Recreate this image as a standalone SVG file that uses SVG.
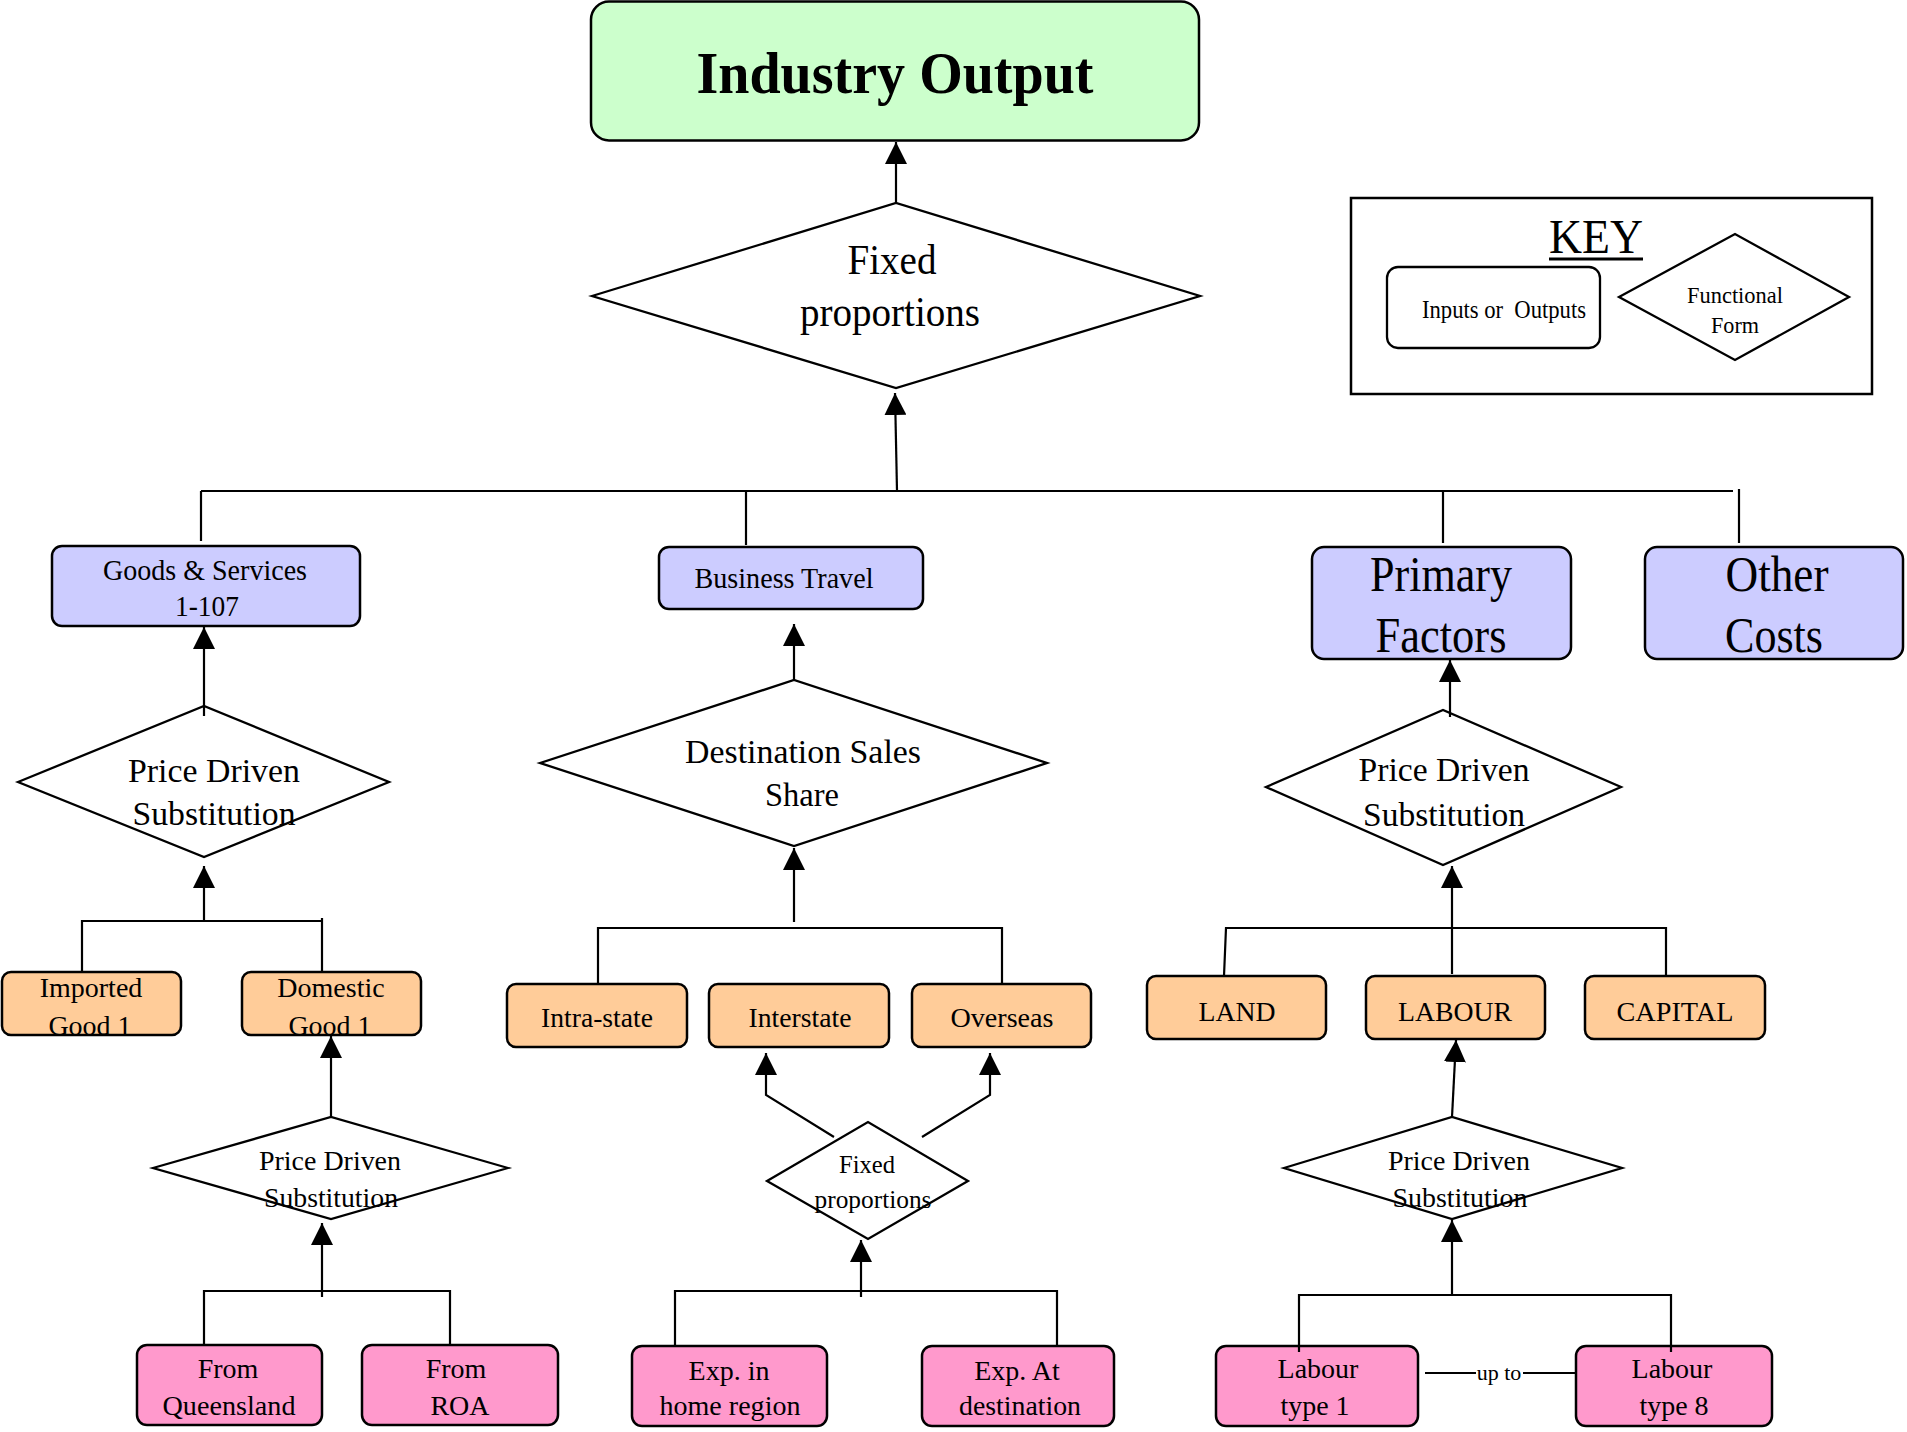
<svg xmlns="http://www.w3.org/2000/svg" width="1907" height="1432" viewBox="0 0 1907 1432">
<style>
.t{font-family:"Liberation Serif","Times New Roman",serif;fill:#000;text-anchor:middle}
.box{stroke:#000;stroke-width:2.5}
.g{fill:#CCFFCC}.b{fill:#CCCCFF}.o{fill:#FFCC99}.p{fill:#FF99CC}
.d{fill:#fff;stroke:#000;stroke-width:2.3}
.c{fill:none;stroke:#000;stroke-width:2.2}
.ca{fill:none;stroke:#000;stroke-width:2.2;marker-end:url(#ah)}
</style>
<defs>
<marker id="ah" viewBox="0 0 22 22" refX="22" refY="11" markerWidth="22" markerHeight="22" markerUnits="userSpaceOnUse" orient="auto">
<path d="M0,0 L22,11 L0,22 z" fill="#000"/>
</marker>
</defs>
<rect width="1907" height="1432" fill="#fff"/>

<g id="n-industry">
<rect class="box g" x="591" y="1.5" width="608" height="139" rx="18"/>
<text class="t" x="895" y="93" font-size="60" font-weight="bold" textLength="397" lengthAdjust="spacingAndGlyphs">Industry Output</text>
</g>
<g id="n-fixed">
<polygon class="d" points="592,296 896,203 1200,296 896,388"/>
<text class="t" x="892" y="274" font-size="42" textLength="89" lengthAdjust="spacingAndGlyphs">Fixed</text>
<text class="t" x="890" y="326" font-size="42" textLength="180" lengthAdjust="spacingAndGlyphs">proportions</text>
</g>
<g id="n-key">
<rect x="1351" y="198" width="521" height="196" fill="#fff" stroke="#000" stroke-width="2.5"/>
<text class="t" x="1596" y="253" font-size="48" textLength="94" lengthAdjust="spacingAndGlyphs">KEY</text>
<line x1="1549" y1="259" x2="1643" y2="259" stroke="#000" stroke-width="3"/>
<rect x="1387" y="267" width="213" height="81" rx="11" fill="#fff" stroke="#000" stroke-width="2.3"/>
<text class="t" x="1504" y="318" font-size="25" textLength="164" lengthAdjust="spacingAndGlyphs" xml:space="preserve">Inputs or  Outputs</text>
<polygon class="d" points="1619,297 1735,234 1849,297 1735,360"/>
<text class="t" x="1735" y="303" font-size="23" textLength="96" lengthAdjust="spacingAndGlyphs">Functional</text>
<text class="t" x="1735" y="333" font-size="23" textLength="48" lengthAdjust="spacingAndGlyphs">Form</text>
</g>

<g id="n-goods">
<rect class="box b" x="52" y="546" width="308" height="80" rx="10"/>
<text class="t" x="205" y="580" font-size="29" textLength="204" lengthAdjust="spacingAndGlyphs">Goods &amp; Services</text>
<text class="t" x="207" y="616" font-size="29" textLength="64" lengthAdjust="spacingAndGlyphs">1-107</text>
</g>
<g id="n-business">
<rect class="box b" x="659" y="547" width="264" height="62" rx="10"/>
<text class="t" x="784" y="588" font-size="29" textLength="179" lengthAdjust="spacingAndGlyphs">Business Travel</text>
</g>
<g id="n-primary">
<rect class="box b" x="1312" y="547" width="259" height="112" rx="12"/>
<text class="t" x="1441" y="591" font-size="50" textLength="142" lengthAdjust="spacingAndGlyphs">Primary</text>
<text class="t" x="1441" y="652" font-size="50" textLength="131" lengthAdjust="spacingAndGlyphs">Factors</text>
</g>
<g id="n-other">
<rect class="box b" x="1645" y="547" width="258" height="112" rx="12"/>
<text class="t" x="1777" y="591" font-size="50" textLength="103" lengthAdjust="spacingAndGlyphs">Other</text>
<text class="t" x="1774" y="652" font-size="50" textLength="98" lengthAdjust="spacingAndGlyphs">Costs</text>
</g>

<g id="n-pds-goods">
<polygon class="d" points="18,782 204,706 389,782 204,857"/>
<text class="t" x="214" y="782" font-size="34" textLength="172" lengthAdjust="spacingAndGlyphs">Price Driven</text>
<text class="t" x="214" y="825" font-size="34" textLength="163" lengthAdjust="spacingAndGlyphs">Substitution</text>
</g>
<g id="n-dest">
<polygon class="d" points="540,763 794,680 1047,763 794,846"/>
<text class="t" x="803" y="763" font-size="34" textLength="236" lengthAdjust="spacingAndGlyphs">Destination Sales</text>
<text class="t" x="802" y="806" font-size="34" textLength="74" lengthAdjust="spacingAndGlyphs">Share</text>
</g>
<g id="n-pds-factors">
<polygon class="d" points="1266,787 1443,710 1621,787 1443,865"/>
<text class="t" x="1444" y="781" font-size="34" textLength="171" lengthAdjust="spacingAndGlyphs">Price Driven</text>
<text class="t" x="1444" y="826" font-size="34" textLength="162" lengthAdjust="spacingAndGlyphs">Substitution</text>
</g>

<g id="n-imported">
<rect class="box o" x="2" y="972" width="179" height="63" rx="9"/>
<text class="t" x="91" y="997" font-size="28">Imported</text>
<text class="t" x="90" y="1035" font-size="28">Good 1</text>
</g>
<g id="n-domestic">
<rect class="box o" x="242" y="972" width="179" height="63" rx="9"/>
<text class="t" x="331" y="997" font-size="28">Domestic</text>
<text class="t" x="330" y="1035" font-size="28">Good 1</text>
</g>
<g id="n-intra">
<rect class="box o" x="507" y="984" width="180" height="63" rx="9"/>
<text class="t" x="597" y="1027" font-size="28" textLength="112" lengthAdjust="spacingAndGlyphs">Intra-state</text>
</g>
<g id="n-inter">
<rect class="box o" x="709" y="984" width="180" height="63" rx="9"/>
<text class="t" x="800" y="1027" font-size="28" textLength="103" lengthAdjust="spacingAndGlyphs">Interstate</text>
</g>
<g id="n-overseas">
<rect class="box o" x="912" y="984" width="179" height="63" rx="9"/>
<text class="t" x="1002" y="1027" font-size="28" textLength="103" lengthAdjust="spacingAndGlyphs">Overseas</text>
</g>
<g id="n-land">
<rect class="box o" x="1147" y="976" width="179" height="63" rx="9"/>
<text class="t" x="1237" y="1021" font-size="28" textLength="77" lengthAdjust="spacingAndGlyphs">LAND</text>
</g>
<g id="n-labour">
<rect class="box o" x="1366" y="976" width="179" height="63" rx="9"/>
<text class="t" x="1455" y="1021" font-size="28" textLength="114" lengthAdjust="spacingAndGlyphs">LABOUR</text>
</g>
<g id="n-capital">
<rect class="box o" x="1585" y="976" width="180" height="63" rx="9"/>
<text class="t" x="1675" y="1021" font-size="28" textLength="117" lengthAdjust="spacingAndGlyphs">CAPITAL</text>
</g>

<g id="n-pds-dom">
<polygon class="d" points="153,1168 331,1117 508,1168 331,1219"/>
<text class="t" x="330" y="1170" font-size="28" textLength="142" lengthAdjust="spacingAndGlyphs">Price Driven</text>
<text class="t" x="331" y="1207" font-size="28" textLength="134" lengthAdjust="spacingAndGlyphs">Substitution</text>
</g>
<g id="n-fixed-small">
<polygon class="d" points="767,1181 868,1122 968,1181 868,1239"/>
<text class="t" x="867" y="1173" font-size="25" textLength="56" lengthAdjust="spacingAndGlyphs">Fixed</text>
<text class="t" x="873" y="1208" font-size="25" textLength="117" lengthAdjust="spacingAndGlyphs">proportions</text>
</g>
<g id="n-pds-lab">
<polygon class="d" points="1284,1168 1452,1117 1622,1168 1452,1219"/>
<text class="t" x="1459" y="1170" font-size="28" textLength="142" lengthAdjust="spacingAndGlyphs">Price Driven</text>
<text class="t" x="1460" y="1207" font-size="28" textLength="135" lengthAdjust="spacingAndGlyphs">Substitution</text>
</g>

<g id="n-qld">
<rect class="box p" x="137" y="1345" width="185" height="80" rx="10"/>
<text class="t" x="228" y="1378" font-size="28">From</text>
<text class="t" x="229" y="1415" font-size="28" textLength="133" lengthAdjust="spacingAndGlyphs">Queensland</text>
</g>
<g id="n-roa">
<rect class="box p" x="362" y="1345" width="196" height="80" rx="10"/>
<text class="t" x="456" y="1378" font-size="28">From</text>
<text class="t" x="460" y="1415" font-size="28">ROA</text>
</g>
<g id="n-home">
<rect class="box p" x="632" y="1346" width="195" height="80" rx="10"/>
<text class="t" x="729" y="1380" font-size="28">Exp. in</text>
<text class="t" x="730" y="1415" font-size="28" textLength="141" lengthAdjust="spacingAndGlyphs">home region</text>
</g>
<g id="n-atdest">
<rect class="box p" x="922" y="1346" width="192" height="80" rx="10"/>
<text class="t" x="1017" y="1380" font-size="28">Exp. At</text>
<text class="t" x="1020" y="1415" font-size="28" textLength="122" lengthAdjust="spacingAndGlyphs">destination</text>
</g>
<g id="n-lab1">
<rect class="box p" x="1216" y="1346" width="202" height="80" rx="10"/>
<text class="t" x="1318" y="1378" font-size="28">Labour</text>
<text class="t" x="1315" y="1415" font-size="28">type 1</text>
</g>
<g id="n-lab8">
<rect class="box p" x="1576" y="1346" width="196" height="80" rx="10"/>
<text class="t" x="1672" y="1378" font-size="28">Labour</text>
<text class="t" x="1674" y="1415" font-size="28">type 8</text>
</g>

<g id="connectors">
<line class="ca" x1="896" y1="203" x2="896" y2="142"/>
<line class="ca" x1="897" y1="491" x2="895" y2="393"/>
<line class="c" x1="201" y1="491" x2="1733" y2="491"/>
<line class="c" x1="201" y1="491" x2="201" y2="541"/>
<line class="c" x1="746" y1="491" x2="746" y2="545"/>
<line class="c" x1="1443" y1="491" x2="1443" y2="543"/>
<line class="c" x1="1739" y1="489" x2="1739" y2="543"/>

<line class="ca" x1="204" y1="716" x2="204" y2="627"/>
<polyline class="c" points="82,972 82,921 322,921"/>
<line class="c" x1="322" y1="918" x2="322" y2="972"/>
<line class="ca" x1="204" y1="921" x2="204" y2="866"/>

<line class="ca" x1="794" y1="680" x2="794" y2="624"/>
<polyline class="c" points="598,984 598,928 1002,928 1002,984"/>
<line class="ca" x1="794" y1="922" x2="794" y2="848"/>

<line class="ca" x1="1450" y1="717" x2="1450" y2="660"/>
<polyline class="c" points="1224,976 1226,928 1666,928 1666,976"/>
<line class="ca" x1="1452" y1="974" x2="1452" y2="866"/>

<line class="ca" x1="331" y1="1117" x2="331" y2="1036"/>
<polyline class="ca" points="834,1137 766,1095 766,1053"/>
<polyline class="ca" points="922,1137 990,1095 990,1053"/>
<line class="ca" x1="1452" y1="1117" x2="1456" y2="1040"/>

<polyline class="c" points="204,1345 204,1291 450,1291 450,1345"/>
<line class="ca" x1="322" y1="1297" x2="322" y2="1223"/>
<polyline class="c" points="675,1346 675,1291 1057,1291 1057,1346"/>
<line class="ca" x1="861" y1="1297" x2="861" y2="1240"/>
<polyline class="c" points="1299,1352 1299,1295 1671,1295 1671,1352"/>
<line class="ca" x1="1452" y1="1295" x2="1452" y2="1220"/>

<line class="c" x1="1425" y1="1373" x2="1476" y2="1373"/>
<line class="c" x1="1523" y1="1373" x2="1576" y2="1373"/>
<text class="t" x="1499" y="1380" font-size="22">up to</text>
</g>
</svg>
